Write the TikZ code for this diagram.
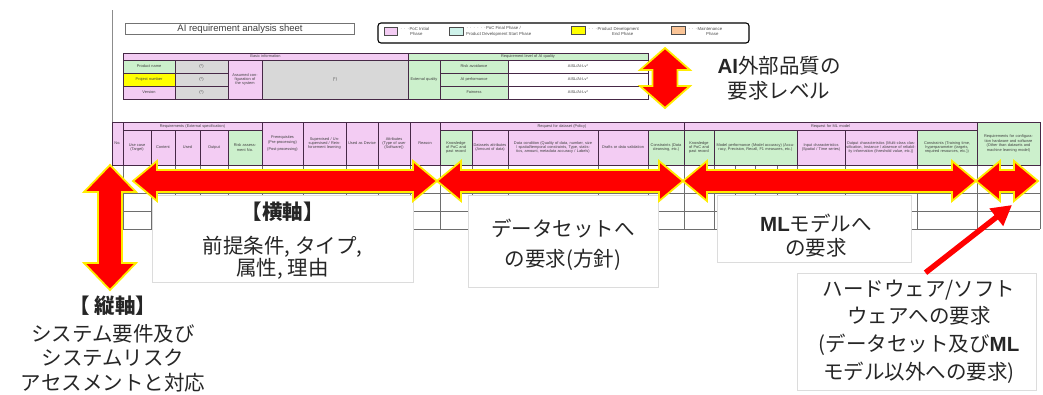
\documentclass[tikz,border=0pt]{standalone}
\usepackage{fontspec}
\setmainfont{Liberation Sans}
\newfontfamily\jp{Noto Sans CJK JP}
\newfontfamily\lat{Liberation Sans}
\usetikzlibrary{arrows.meta}
\definecolor{pk}{RGB}{243,204,243}
\definecolor{gn}{RGB}{204,240,204}
\definecolor{gy}{RGB}{216,216,216}
\definecolor{yl}{RGB}{255,255,0}
\definecolor{mint}{RGB}{206,242,234}
\definecolor{org}{RGB}{250,196,150}
\definecolor{ln}{RGB}{70,40,70}
\definecolor{bodyln}{RGB}{110,110,110}
\definecolor{arred}{RGB}{255,0,0}
\definecolor{aryel}{RGB}{255,236,0}
\definecolor{bxln}{RGB}{220,220,220}
\tikzset{
  cellst/.style={draw=ln, line width=0.6pt, inner sep=0.4pt, align=center,
    font=\fontsize{3.9}{4.4}\selectfont, text=black!75},
  lblbox/.style={fill=white, draw=bxln, line width=0.6pt, inner sep=0pt},
  freetxt/.style={inner sep=0pt, align=center, text=black!85},
  bigarrow/.style={fill=arred, draw=aryel, line width=1.8pt, line join=miter},
  legtxt/.style={inner sep=0pt, align=left, anchor=west, font=\fontsize{4.3}{5.3}\selectfont, text=black!70},
  swatch/.style={draw=black!70, line width=0.5pt},
}
\newcommand\xcell[7]{%
  \pgfmathsetmacro\xcw{#4-#2}\pgfmathsetmacro\xch{#5-#3}\pgfmathsetmacro\xtw{#4-#2-2}%
  \pgfmathsetmacro\xcx{(#2+#4)/2}\pgfmathsetmacro\xcy{(#3+#5)/2}%
  \node[cellst, fill=#6, minimum width=\xcw pt, minimum height=\xch pt, text width=\xtw pt] (#1) at (\xcx,\xcy) {#7};}
\newcommand\hdarrow[6]{% x1 x2 y shafthalf headhalf headlen
  \draw[bigarrow] (#1,#3) -- (#1+#6,#3-#5) -- (#1+#6,#3-#4) -- (#2-#6,#3-#4) -- (#2-#6,#3-#5)
    -- (#2,#3) -- (#2-#6,#3+#5) -- (#2-#6,#3+#4) -- (#1+#6,#3+#4) -- (#1+#6,#3+#5) -- cycle;}
\newcommand\vdarrow[6]{% y1 y2 x shafthalf headhalf headlen
  \draw[bigarrow] (#3,#1) -- (#3+#5,#1+#6) -- (#3+#4,#1+#6) -- (#3+#4,#2-#6) -- (#3+#5,#2-#6)
    -- (#3,#2) -- (#3-#5,#2-#6) -- (#3-#4,#2-#6) -- (#3-#4,#1+#6) -- (#3-#5,#1+#6) -- cycle;}
\begin{document}
\begin{tikzpicture}[x=1pt,y=-1pt]
\useasboundingbox[fill=white] (0,0) rectangle (1043,394);
% sheet edge
\draw[black!45, line width=0.6pt] (112,10) -- (112,122);
% title
\node[draw=black!55, line width=0.7pt, minimum width=229pt, minimum height=11pt, inner sep=0pt,
  font=\fontsize{9.5}{10}\selectfont, text=black!75] (title) at (240,29) {AI requirement analysis sheet};
% legend
\draw[black, line width=1.1pt, rounded corners=3pt] (378,23) rectangle (749,43);
\draw[swatch, fill=pk] (384,27) rectangle (397,35);
\node[legtxt] (lg1) at (400,31.5) {$\cdots$PoC Initial\\\hspace*{10pt}Phase};
\draw[swatch, fill=mint] (449,27) rectangle (463,35);
\node[legtxt] (lg2) at (466,31.5) {$\cdots\cdots$PoC Final Phase /\\Product Development Start Phase};
\draw[swatch, fill=yl] (571,26) rectangle (585,34);
\node[legtxt] (lg3) at (588,31.5) {$\cdots$Product Development\\\hspace*{24pt}End Phase};
\draw[swatch, fill=org] (671,26) rectangle (685,34);
\node[legtxt] (lg4) at (688,31.5) {$\cdots$Maintenance\\\hspace*{18pt}Phase};
% basic information
\xcell{bi}{123}{53}{408}{60}{pk}{Basic information}
\xcell{pn}{123}{60}{175}{73}{gn}{Product name}
\xcell{pnv}{175}{60}{228}{73}{gy}{(*)}
\xcell{pj}{123}{73}{175}{86}{yl}{Project number}
\xcell{pjv}{175}{73}{228}{86}{gy}{(*)}
\xcell{vr}{123}{86}{175}{99}{pk}{Version}
\xcell{vrv}{175}{86}{228}{99}{gy}{(*)}
\xcell{asc}{228}{60}{262}{99}{pk}{Assumed configuration of the system}
\xcell{ascv}{262}{60}{408}{99}{gy}{(*)}
% quality
\xcell{rq}{408}{53}{648}{60}{gn}{Requirement level of AI quality}
\xcell{eq}{408}{60}{440}{99}{gn}{External quality}
\xcell{ra}{440}{60}{508}{73}{gn}{Risk avoidance}
\xcell{rav}{508}{60}{648}{73}{white}{AISL/AI-Lv*}
\xcell{ap}{440}{73}{508}{86}{gn}{AI performance}
\xcell{apv}{508}{73}{648}{86}{white}{AISL/AI-Lv*}
\xcell{fa}{440}{86}{508}{99}{gn}{Fairness}
\xcell{fav}{508}{86}{648}{99}{white}{AISL/AI-Lv*}
% body grid
\foreach \yy in {193,211,229} \draw[bodyln, line width=0.5pt] (112,\yy) -- (1040,\yy);
\foreach \xx in {112,123,151,175,200,228,262,303,346,378,410,440,472,508,598,648,684,714,735,755,777,797,845,917,977,1040}
  \draw[bodyln, line width=0.5pt] (\xx,165) -- (\xx,229);
% header of main table
\xcell{no}{112}{122}{123}{165}{pk}{No.}
\xcell{g1}{123}{122}{262}{130}{pk}{Requirements (External specification)}
\xcell{c1}{123}{130}{151}{165}{pk}{Use case (Target)}
\xcell{c2}{151}{130}{175}{165}{pk}{Content}
\xcell{c3}{175}{130}{200}{165}{pk}{Used}
\xcell{c4}{200}{130}{228}{165}{pk}{Output}
\xcell{c5}{228}{130}{262}{165}{gn}{Risk assessment No.}
\xcell{c6}{262}{122}{303}{165}{pk}{Prerequisites (Pre-processing)\\[3pt](Post-processing)}
\xcell{c7}{303}{122}{346}{165}{pk}{Supervised / Unsupervised / Reinforcement learning}
\xcell{c8}{346}{122}{378}{165}{pk}{Used as Device}
\xcell{c9}{378}{122}{410}{165}{pk}{Attributes (Type of user (Software))}
\xcell{c10}{410}{122}{440}{165}{pk}{Reason}
\xcell{g2}{440}{122}{684}{130}{pk}{Request for dataset (Policy)}
\xcell{d1}{440}{130}{472}{165}{gn}{Knowledge of PoC and past record}
\xcell{d2}{472}{130}{508}{165}{pk}{Datasets attributes (Amount of data)}
\xcell{d3}{508}{130}{598}{165}{pk}{Data condition (Quality of data, number, size / spatial/temporal constraints, Type, statistics, amount, metadata accuracy / Labels)}
\xcell{d4}{598}{130}{648}{165}{pk}{Drafts or data validation}
\xcell{d5}{648}{130}{684}{165}{gn}{Constraints (Data cleansing, etc.)}
\xcell{g3}{684}{122}{977}{130}{pk}{Request for ML model}
\xcell{m1}{684}{130}{714}{165}{gn}{Knowledge of PoC and past record}
\xcell{m2}{714}{130}{797}{165}{gn}{Model performance (Model accuracy) (Accuracy, Precision, Recall, F1 measures, etc.)}
\xcell{m3}{797}{130}{845}{165}{pk}{Input characteristics (Spatial / Time series)}
\xcell{m4}{845}{130}{917}{165}{pk}{Output characteristics (Multi-class classification, Instance / absence of reliability information (threshold value, etc.))}
\xcell{m5}{917}{130}{977}{165}{gn}{Constraints (Training time, hyperparameter (targets, required resources, etc.))}
\xcell{hwc}{977}{122}{1040}{165}{gn}{Requirements for configuration hardware and software (Other than datasets and machine learning model)}
% label boxes
\node[lblbox, minimum width=261pt, minimum height=87pt] (yoko) at (282.5,238.5) {};
\node[freetxt, font=\jp\fontsize{20.5}{21}\selectfont] (yokot) at (282.5,241)
  {{\bfseries 【横軸】}\\[13pt]前提条件, タイプ,\\属性, 理由};
\node[lblbox, minimum width=190pt, minimum height=92pt] (ds) at (563,241) {};
\node[freetxt, font=\jp\fontsize{20.5}{30}\selectfont] (dst) at (563,245) {データセットへ\\の要求(方針)};
\node[lblbox, minimum width=194pt, minimum height=67pt] (ml) at (814,228.5) {};
\node[freetxt, font=\jp\fontsize{20.5}{24.5}\selectfont] (mlt) at (816,235.5) {{\lat\bfseries ML}モデルへ\\の要求};
\node[lblbox, minimum width=239pt, minimum height=117pt] (hw) at (916.5,331.5) {};
\node[freetxt, font=\jp\fontsize{20.5}{27.7}\selectfont] (hwt) at (919,331.5)
  {ハードウェア/ソフト\\ウェアへの要求\\(データセット及び{\lat\bfseries ML}\\モデル以外への要求)};
% free texts
\node[freetxt, font=\jp\fontsize{20.5}{24.5}\selectfont] (tate) at (113,344)
  {{\bfseries 【 縦軸】}\\[3pt]システム要件及び\\システムリスク\\アセスメントと対応};
\node[freetxt, font=\jp\fontsize{20.5}{25}\selectfont] (aiq) at (779,78) {{\lat\bfseries AI}外部品質の\\要求レベル};
% big arrows
\hdarrow{133}{437}{181}{11}{20}{24}
\hdarrow{437}{683}{181}{11}{20}{24}
\hdarrow{683}{976}{181}{11}{20}{24}
\hdarrow{976}{1038}{181}{11}{20}{24}
\vdarrow{165}{290}{110}{12}{26}{27}
\vdarrow{48}{108}{665}{12.5}{25}{22}
% hardware pointer
\coordinate (hwtip) at (1012,205);
\draw[arred, line width=5.5pt, -{Triangle[length=20pt,width=21pt]}] ([xshift=9pt]hw.north) -- (hwtip);
\end{tikzpicture}
\end{document}
